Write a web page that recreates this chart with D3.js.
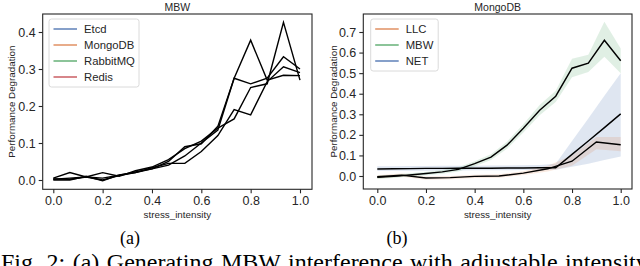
<!DOCTYPE html>
<html>
<head>
<meta charset="utf-8">
<script src="https://cdn.jsdelivr.net/npm/d3@7"></script>
<style>
  body { margin: 0; background: #fff; }
  svg { display: block; }
</style>
</head>
<body>
<div id="chart"></div>
<script>
// ---- data ----
const stressX = [0, 0.067, 0.133, 0.2, 0.267, 0.333, 0.4, 0.467, 0.533, 0.6, 0.667, 0.733, 0.8, 0.867, 0.933, 1.0];
const xTicks = [0, 0.2, 0.4, 0.6, 0.8, 1.0];

// (a) MBW interference on each app
const mbwApps = ["Etcd", "MongoDB", "RabbitMQ", "Redis"];
const etcdDeg = [0.003, 0.002, 0.008, 0.0, 0.012, 0.02, 0.03, 0.05, 0.09, 0.098, 0.145, 0.275, 0.378, 0.27, 0.283, 0.282];
const mongoDeg = [0.005, 0.02, 0.008, 0.02, 0.01, 0.025, 0.035, 0.055, 0.085, 0.105, 0.14, 0.165, 0.25, 0.26, 0.426, 0.27];
const rabbitDeg = [0.0, 0.0, 0.01, -0.002, 0.014, 0.02, 0.033, 0.045, 0.045, 0.077, 0.12, 0.19, 0.176, 0.266, 0.306, 0.29];
const redisDeg = [0.002, 0.005, 0.008, 0.005, 0.013, 0.022, 0.03, 0.04, 0.065, 0.1, 0.135, 0.275, 0.26, 0.275, 0.333, 0.30];
const leftYTicks = [0, 0.1, 0.2, 0.3, 0.4];

// (b) MongoDB under each interference type
const mongoKinds = ["LLC", "MBW", "NET"];
const llcX = [0, 0.1, 0.2, 0.3, 0.4, 0.5, 0.6, 0.7, 0.8, 0.9, 1.0];
const llcMean = [-0.004, 0.004, -0.01, -0.008, -0.002, 0.0, 0.014, 0.035, 0.072, 0.165, 0.152];
const llcLow = [-0.012, -0.004, -0.018, -0.016, -0.01, -0.008, 0.005, 0.022, 0.05, 0.13, 0.12];
const llcHigh = [0.004, 0.012, -0.002, 0.0, 0.006, 0.008, 0.023, 0.05, 0.1, 0.19, 0.19];
const mbwMean = [-0.006, -0.002, 0.005, 0.012, 0.02, 0.032, 0.06, 0.092, 0.15, 0.232, 0.32, 0.388, 0.524, 0.548, 0.66, 0.56];
const mbwLow = [-0.014, -0.01, -0.003, 0.004, 0.011, 0.022, 0.048, 0.078, 0.133, 0.212, 0.295, 0.36, 0.48, 0.505, 0.58, 0.5];
const mbwHigh = [0.002, 0.006, 0.013, 0.02, 0.029, 0.042, 0.072, 0.106, 0.167, 0.252, 0.345, 0.415, 0.57, 0.59, 0.75, 0.62];
const netMean = [0.034, 0.035, 0.036, 0.037, 0.037, 0.038, 0.038, 0.038, 0.039, 0.039, 0.04, 0.04, 0.105, 0.17, 0.235, 0.302];
const netLow = [0.024, 0.025, 0.026, 0.026, 0.027, 0.027, 0.028, 0.028, 0.028, 0.029, 0.029, 0.03, 0.045, 0.06, 0.078, 0.095];
const netHigh = [0.048, 0.048, 0.049, 0.049, 0.05, 0.05, 0.05, 0.051, 0.051, 0.052, 0.053, 0.06, 0.17, 0.28, 0.39, 0.5];
const rightYTicks = [0, 0.1, 0.2, 0.3, 0.4, 0.5, 0.6, 0.7];

const captionLabels = ["(a)", "(b)"];
const captionText = "Fig. 2: (a) Generating MBW interference with adjustable intensity";

// ---- drawing ----
const width = 640, height = 266;
const ink = "#262626";
const sans = "'Liberation Sans', Arial, sans-serif";
const serif = "'Liberation Serif', 'Times New Roman', serif";
const palette = { blue: "#4c72b0", orange: "#dd8452", green: "#55a868", red: "#c44e52" };

const svg = d3.select("#chart").append("svg")
    .attr("width", width)
    .attr("height", height);

function panel(cfg) {
    const g = svg.append("g");
    const x = d3.scaleLinear().domain([0, 1]).range(cfg.xRange);
    const y = d3.scaleLinear().domain([0, cfg.yTop]).range(cfg.yRange);

    // bands
    cfg.bands.forEach(b => {
        const area = d3.area()
            .x((d, i) => x(b.xs[i]))
            .y0((d, i) => y(b.low[i]))
            .y1((d, i) => y(b.high[i]));
        g.append("path")
            .datum(b.low)
            .attr("d", area)
            .attr("fill", b.color)
            .attr("fill-opacity", 0.18);
    });

    // lines (all drawn black)
    const line = d3.line()
        .x(d => x(d[0]))
        .y(d => y(d[1]));
    cfg.lines.forEach(l => {
        g.append("path")
            .datum(l.xs.map((v, i) => [v, l.ys[i]]))
            .attr("d", line)
            .attr("fill", "none")
            .attr("stroke", "#000")
            .attr("stroke-width", 1.4)
            .attr("stroke-linejoin", "miter");
    });

    // frame
    const [fx0, fx1] = cfg.frameX, [fy0, fy1] = cfg.frameY;
    g.append("rect")
        .attr("x", fx0).attr("y", fy0)
        .attr("width", fx1 - fx0).attr("height", fy1 - fy0)
        .attr("fill", "none")
        .attr("stroke", ink)
        .attr("stroke-width", 1.1);

    // x axis
    const xAxis = g.append("g")
        .attr("transform", `translate(0,${fy1})`)
        .call(d3.axisBottom(x).tickValues(xTicks).tickFormat(d3.format(".1f")).tickSize(4).tickPadding(3));
    xAxis.select(".domain").remove();

    // y axis
    const yAxis = g.append("g")
        .attr("transform", `translate(${fx0},0)`)
        .call(d3.axisLeft(y).tickValues(cfg.yTicks).tickFormat(d3.format(".1f")).tickSize(4).tickPadding(3));
    yAxis.select(".domain").remove();

    g.selectAll(".tick line").attr("stroke", ink).attr("stroke-width", 1.1);
    g.selectAll(".tick text")
        .attr("fill", ink)
        .style("font-family", sans)
        .style("font-size", "12.5px");

    // title + axis labels
    const cx = (fx0 + fx1) / 2;
    g.append("text")
        .attr("x", cx).attr("y", 11)
        .attr("text-anchor", "middle")
        .attr("fill", ink)
        .style("font-family", sans).style("font-size", "10.5px")
        .text(cfg.title);
    g.append("text")
        .attr("x", cx).attr("y", 218)
        .attr("text-anchor", "middle")
        .attr("fill", ink)
        .style("font-family", sans).style("font-size", "9.8px")
        .text("stress_intensity");
    g.append("text")
        .attr("transform", `translate(${cfg.yLabelX},${(fy0 + fy1) / 2}) rotate(-90)`)
        .attr("text-anchor", "middle")
        .attr("dy", "0.35em")
        .attr("fill", ink)
        .style("font-family", sans).style("font-size", "9.8px")
        .text("Performance Degradation");

    // legend
    const lg = g.append("g");
    lg.append("rect")
        .attr("x", cfg.legend.x).attr("y", cfg.legend.y)
        .attr("width", cfg.legend.w).attr("height", cfg.legend.h)
        .attr("rx", 2.5)
        .attr("fill", "#fff").attr("fill-opacity", 0.8)
        .attr("stroke", "#d6d6d6").attr("stroke-width", 0.9);
    cfg.legend.items.forEach((it, i) => {
        const ly = cfg.legend.y + 10 + i * 16;
        lg.append("line")
            .attr("x1", cfg.legend.x + 4.5).attr("x2", cfg.legend.x + 28)
            .attr("y1", ly).attr("y2", ly)
            .attr("stroke", it.color).attr("stroke-width", 1.6).attr("stroke-opacity", 0.85);
        lg.append("text")
            .attr("x", cfg.legend.x + 35).attr("y", ly)
            .attr("dy", "0.36em")
            .attr("fill", ink)
            .style("font-family", sans).style("font-size", "11.3px")
            .text(it.name);
    });
}

panel({
    title: "MBW",
    xRange: [53.3, 300], frameX: [42.7, 312],
    yTop: 0.4, yRange: [180, 32], frameY: [14, 189.3],
    yTicks: leftYTicks, yLabelX: 12,
    bands: [],
    lines: [etcdDeg, mongoDeg, rabbitDeg, redisDeg].map(ys => ({ xs: stressX, ys })),
    legend: {
        x: 49, y: 19, w: 90, h: 68,
        items: mbwApps.map((name, i) => ({ name, color: [palette.blue, palette.orange, palette.green, palette.red][i] }))
    }
});

panel({
    title: "MongoDB",
    xRange: [377.3, 620.7], frameX: [363.3, 632],
    yTop: 0.7, yRange: [176, 32], frameY: [14, 189],
    yTicks: rightYTicks, yLabelX: 333.5,
    bands: [
        { xs: stressX, low: netLow, high: netHigh, color: palette.blue },
        { xs: llcX, low: llcLow, high: llcHigh, color: palette.orange },
        { xs: stressX, low: mbwLow, high: mbwHigh, color: palette.green }
    ],
    lines: [
        { xs: llcX, ys: llcMean },
        { xs: stressX, ys: mbwMean },
        { xs: stressX, ys: netMean }
    ],
    legend: {
        x: 370.7, y: 19, w: 67.5, h: 52,
        items: mongoKinds.map((name, i) => ({ name, color: [palette.orange, palette.green, palette.blue][i] }))
    }
});

// caption
svg.selectAll(".sub")
    .data(captionLabels)
    .join("text")
    .attr("class", "sub")
    .attr("x", (d, i) => [130, 397][i])
    .attr("y", 243.5)
    .attr("text-anchor", "middle")
    .attr("fill", "#000")
    .style("font-family", serif).style("font-size", "18px")
    .text(d => d);

// caption line runs past the bottom/right edge, as in the source figure
svg.append("text")
    .attr("x", 1).attr("y", 269.5)
    .attr("fill", "#000")
    .style("font-family", serif).style("font-size", "24px")
    .style("word-spacing", "1.5px")
    .text(captionText);
</script>
</body>
</html>
